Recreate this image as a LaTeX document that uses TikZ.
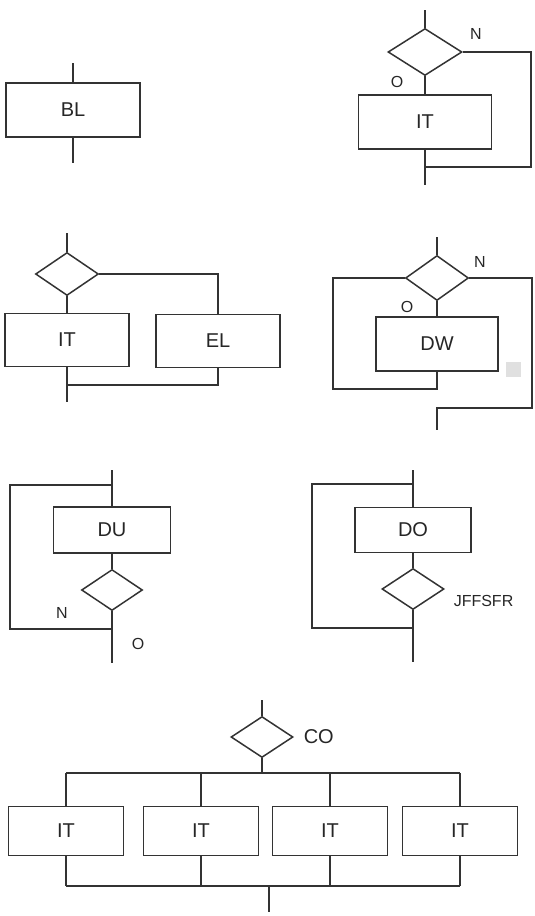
\documentclass[tikz,border=0pt]{standalone}
\usepackage{fontspec}
\setmainfont{Liberation Sans}
\usetikzlibrary{shapes.geometric}

\begin{document}
\begin{tikzpicture}[x=1pt, y=-1pt, line width=1.5pt, draw=black!80, text=black!85,
    blk/.style={draw, rectangle, inner sep=0pt, minimum height=54pt,
      font=\fontsize{20}{24}\selectfont},
    cond/.style={draw, diamond, inner sep=0pt, minimum width=63pt, minimum height=43pt},
    tag/.style={inner sep=0pt, font=\fontsize{16}{18}\selectfont}]

    \useasboundingbox (0,0) rectangle (535,916);

    % Block
    \node[blk, minimum width=134pt] (bl) at (73,110) {BL};
    \coordinate (bl_in) at (73,63);
    \coordinate (bl_out) at (73,163);
    \draw (bl_in) -- (bl.north);
    \draw (bl.south) -- (bl_out);

    % If-then
    \node[cond, minimum width=74pt, minimum height=47pt] (it_c) at (425,52) {};
    \node[blk, minimum width=133pt] (it_b) at (425,122) {IT};
    \coordinate (it_in) at (425,10);
    \coordinate (it_r) at (531,167);
    \coordinate (it_out) at (425,185);
    \draw (it_in) -- (it_c.north);
    \draw (it_c.south) -- (it_b.north);
    \draw (it_c.east) -| (it_r) -- (it_out |- it_r);
    \draw (it_b.south) -- (it_out);
    \node[tag] at (476,34) {N};
    \node[tag] at (397,82) {O};

    % If-then-else
    \node[cond] (ie_c) at (67,274) {};
    \node[blk, minimum width=124pt, minimum height=53pt] (ie_t) at (67,340) {IT};
    \node[blk, minimum width=124pt, minimum height=53pt] (ie_e) at (218,341) {EL};
    \coordinate (ie_in) at (67,233);
    \coordinate (ie_j) at (67,385);
    \coordinate (ie_out) at (67,402);
    \draw (ie_in) -- (ie_c.north);
    \draw (ie_c.south) -- (ie_t.north);
    \draw (ie_c.east) -| (ie_e.north);
    \draw (ie_e.south) |- (ie_j);
    \draw (ie_t.south) -- (ie_out);

    % Do-while
    \node[cond, minimum height=45pt] (dw_c) at (437,278) {};
    \node[blk, minimum width=122pt] (dw_b) at (437,344) {DW};
    \coordinate (dw_in) at (437,237);
    \coordinate (dw_l) at (333,389);
    \coordinate (dw_r) at (532,408);
    \coordinate (dw_out) at (437,430);
    \draw (dw_in) -- (dw_c.north);
    \draw (dw_c.south) -- (dw_b.north);
    \draw (dw_b.south) |- (dw_l) |- (dw_c.west);
    \draw (dw_c.east) -| (dw_r) -- (dw_out |- dw_r) -- (dw_out);
    \node[tag] at (480,262) {N};
    \node[tag] at (407,307) {O};
    \fill[black!12] (506,362) rectangle (521,377);

    % Do-until
    \node[blk, minimum width=117pt, minimum height=46pt] (du_b) at (112,530) {DU};
    \node[cond, minimum width=61pt, minimum height=41pt] (du_c) at (112,590) {};
    \coordinate (du_in) at (112,470);
    \coordinate (du_t) at (10,485);
    \coordinate (du_l) at (10,629);
    \coordinate (du_out) at (112,663);
    \draw (du_in) -- (du_b.north);
    \draw (du_b.south) -- (du_c.north);
    \draw (du_c.south) -- (du_out);
    \draw (du_out |- du_l) -- (du_l) -- (du_t) -- (du_in |- du_t);
    \node[tag] at (62,613) {N};
    \node[tag] at (138,644) {O};

    % Loop
    \node[blk, minimum width=116pt, minimum height=45pt] (do_b) at (413,530) {DO};
    \node[cond, minimum width=62pt, minimum height=41pt] (do_c) at (413,589) {};
    \coordinate (do_in) at (413,470);
    \coordinate (do_t) at (312,484);
    \coordinate (do_l) at (312,628);
    \coordinate (do_out) at (413,662);
    \draw (do_in) -- (do_b.north);
    \draw (do_b.south) -- (do_c.north);
    \draw (do_c.south) -- (do_out);
    \draw (do_out |- do_l) -- (do_l) -- (do_t) -- (do_in |- do_t);
    \node[tag, anchor=west] at (453,601) {JFFSFR};

    % Case
    \node[cond, minimum width=62pt, minimum height=41pt] (co_c) at (262,737) {};
    \node[tag, anchor=west, font=\fontsize{20}{24}\selectfont] at (303,737) {CO};
    \coordinate (co_in) at (262,700);
    \coordinate (co_top) at (0,773);
    \coordinate (co_bot) at (0,886);
    \coordinate (co_out) at (269,912);
    \foreach \i/\x in {1/66, 2/201, 3/330, 4/460} {
        \node[blk, minimum width=115pt, minimum height=49pt] (co\i) at (\x,831) {IT};
        \draw (co\i.north) -- (co\i.north |- co_top);
        \draw (co\i.south) -- (co\i.south |- co_bot);
    }
    \draw (co_in) -- (co_c.north);
    \draw (co_c.south) -- (co_c.south |- co_top);
    \draw (co1.north |- co_top) -- (co4.north |- co_top);
    \draw (co1.south |- co_bot) -- (co4.south |- co_bot);
    \draw (co_out |- co_bot) -- (co_out);

\end{tikzpicture}
\end{document}
